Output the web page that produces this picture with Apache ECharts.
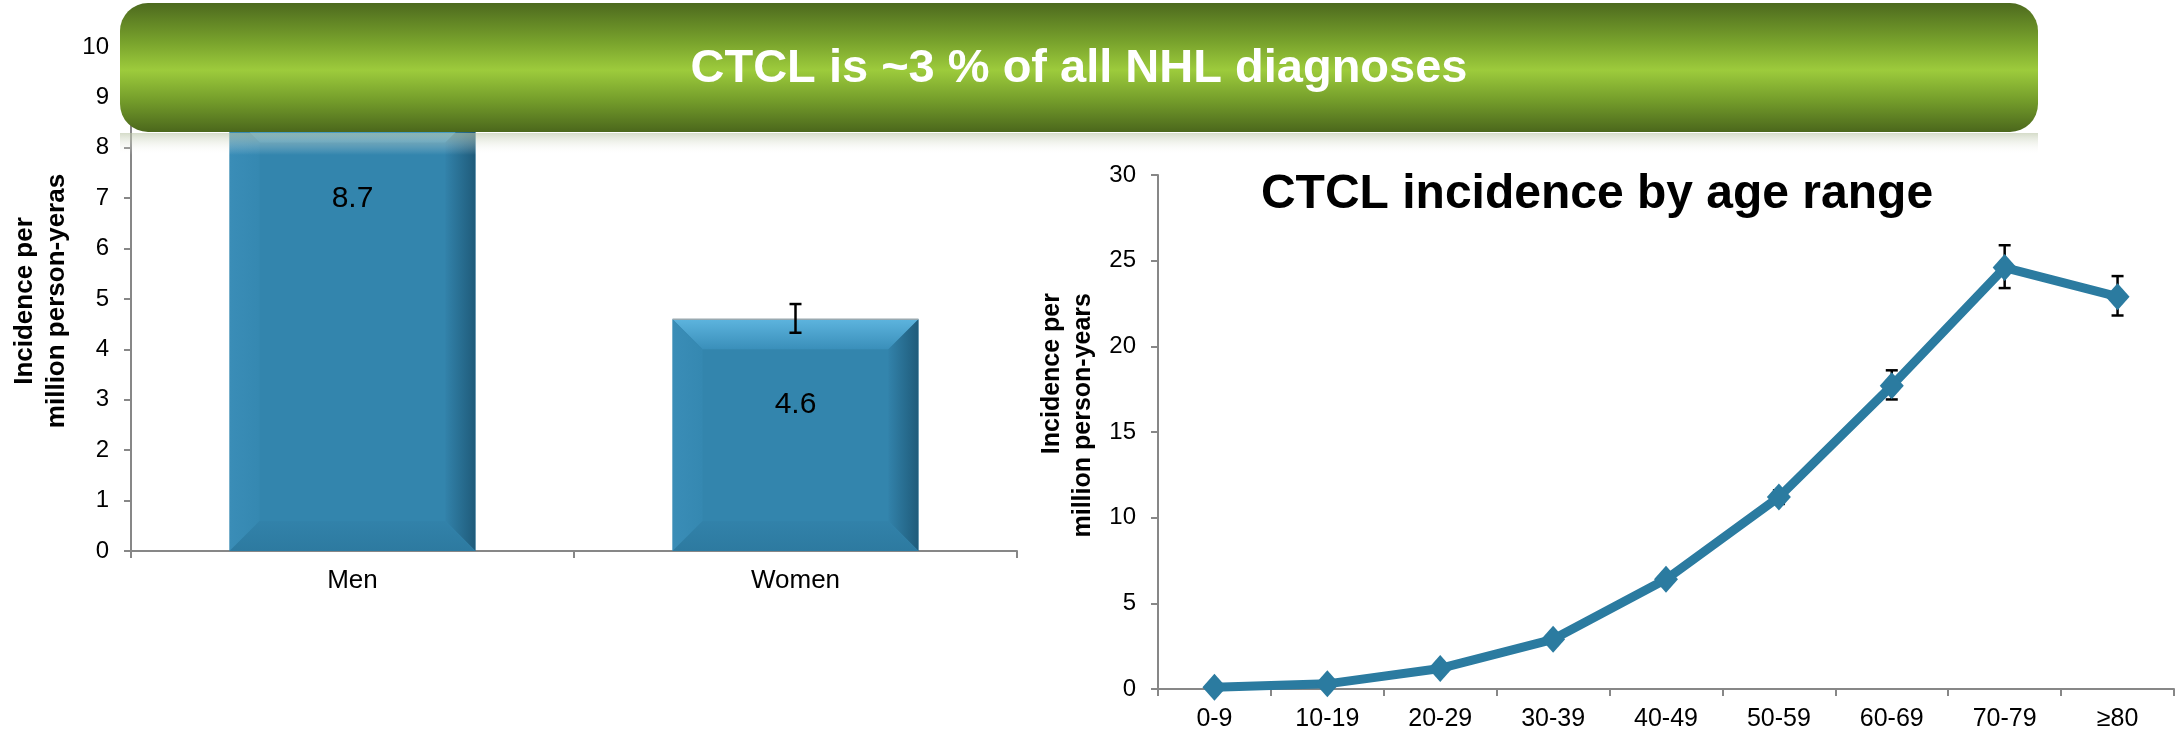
<!DOCTYPE html>
<html>
<head>
<meta charset="utf-8">
<title>CTCL incidence</title>
<script src="https://cdn.jsdelivr.net/npm/echarts@6/dist/echarts.min.js"></script>
<style>
  html, body { margin: 0; padding: 0; background: #fff; }
  #chart { width: 2183px; height: 735px; }
</style>
</head>
<body>
<div id="chart"></div>
<script>
// incidence by sex
var sexCategories = ['Men', 'Women'];
var sexIncidence = [8.7, 4.6];
var sexErrLow = [null, 4.33];
var sexErrHigh = [null, 4.9];

// incidence by age range
var ageCategories = ['0-9', '10-19', '20-29', '30-39', '40-49', '50-59', '60-69', '70-79', '≥80'];
var ageIncidence = [0.1, 0.3, 1.2, 2.9, 6.4, 11.2, 17.7, 24.6, 22.9];
var ageErrLow = [null, null, null, null, null, 10.8, 16.9, 23.4, 21.8];
var ageErrHigh = [null, null, null, null, null, 11.6, 18.6, 25.9, 24.1];

var FONT = '"Liberation Sans", Arial, sans-serif';

function errData(low, high) {
  var out = [];
  for (var i = 0; i < low.length; i++) {
    if (low[i] != null) out.push([i, low[i], high[i]]);
  }
  return out;
}

// I-beam error bar
function renderErr(params, api) {
  var lo = api.coord([api.value(0), api.value(1)]);
  var hi = api.coord([api.value(0), api.value(2)]);
  var w = 6;
  var st = { stroke: '#000', lineWidth: 2.5 };
  return {
    type: 'group',
    children: [
      { type: 'line', shape: { x1: hi[0], y1: hi[1], x2: lo[0], y2: lo[1] }, style: st },
      { type: 'line', shape: { x1: hi[0] - w, y1: hi[1], x2: hi[0] + w, y2: hi[1] }, style: st },
      { type: 'line', shape: { x1: lo[0] - w, y1: lo[1], x2: lo[0] + w, y2: lo[1] }, style: st }
    ]
  };
}

// bevelled bar with value label
function renderBar(params, api) {
  var top = api.coord([api.value(0), api.value(1)]);
  var base = api.coord([api.value(0), 0]);
  var w = api.size([1, 0])[0] * 0.555;
  var x0 = top[0] - w / 2, x1 = top[0] + w / 2;
  var y0 = top[1], y1 = base[1];
  var b = 30;
  function grad(x2, y2, c1, c2) {
    return { type: 'linear', x: 0, y: 0, x2: x2, y2: y2, colorStops: [{ offset: 0, color: c1 }, { offset: 1, color: c2 }] };
  }
  return {
    type: 'group',
    children: [
      { type: 'rect', shape: { x: x0, y: y0, width: w, height: y1 - y0 }, style: { fill: '#3385ad' } },
      { type: 'polygon', shape: { points: [[x0, y0], [x1, y0], [x1 - b, y0 + b], [x0 + b, y0 + b]] },
        style: { fill: grad(0, 1, '#5db4de', '#3a8fba') } },
      { type: 'polygon', shape: { points: [[x0, y0], [x0 + b, y0 + b], [x0 + b, y1 - b], [x0, y1]] },
        style: { fill: grad(1, 0, '#3a8db7', '#3588b1') } },
      { type: 'polygon', shape: { points: [[x1, y0], [x1 - b, y0 + b], [x1 - b, y1 - b], [x1, y1]] },
        style: { fill: grad(1, 0, '#3282aa', '#1f5b7a') } },
      { type: 'polygon', shape: { points: [[x0, y1], [x0 + b, y1 - b], [x1 - b, y1 - b], [x1, y1]] },
        style: { fill: grad(0, 1, '#3282aa', '#2d7aa0') } },
      { type: 'line', shape: { x1: x0, y1: y0, x2: x1, y2: y0 }, style: { stroke: '#9aa9b0', lineWidth: 1.5 } },
      { type: 'text', x: top[0], y: y0 + 86,
        style: { text: api.value(1).toFixed(1), fill: '#000', font: '30px ' + FONT,
          align: 'center', verticalAlign: 'middle', textAlign: 'center', textVerticalAlign: 'middle' } }
    ]
  };
}

var axisLineStyle = { show: true, lineStyle: { color: '#878787', width: 2 } };
var tickStyle = { show: true, length: 7, lineStyle: { color: '#878787', width: 2 } };

var chart = echarts.init(document.getElementById('chart'));
chart.setOption({
  animation: false,
  backgroundColor: '#fff',
  grid: [
    { left: 131, top: 47, width: 886, height: 504 },
    { left: 1158, top: 175, width: 1016, height: 514 }
  ],
  xAxis: [
    {
      type: 'category', gridIndex: 0, data: sexCategories,
      axisLine: axisLineStyle, axisTick: tickStyle,
      axisLabel: { color: '#000', fontSize: 26, fontFamily: FONT, margin: 17 }
    },
    {
      type: 'category', gridIndex: 1, data: ageCategories,
      axisLine: axisLineStyle, axisTick: tickStyle,
      axisLabel: { color: '#000', fontSize: 25, fontFamily: FONT, margin: 18 }
    }
  ],
  yAxis: [
    {
      type: 'value', gridIndex: 0, min: 0, max: 10, interval: 1,
      axisLine: axisLineStyle, axisTick: tickStyle, splitLine: { show: false },
      axisLabel: { color: '#000', fontSize: 24, fontFamily: FONT, margin: 22 }
    },
    {
      type: 'value', gridIndex: 1, min: 0, max: 30, interval: 5,
      axisLine: axisLineStyle, axisTick: tickStyle, splitLine: { show: false },
      axisLabel: { color: '#000', fontSize: 24, fontFamily: FONT, margin: 22 }
    }
  ],
  series: [
    {
      type: 'custom', xAxisIndex: 0, yAxisIndex: 0, z: 2,
      data: sexIncidence.map(function (v, i) { return [i, v]; }),
      encode: { x: 0, y: 1 },
      renderItem: renderBar
    },
    {
      type: 'custom', xAxisIndex: 0, yAxisIndex: 0, z: 3,
      data: errData(sexErrLow, sexErrHigh),
      encode: { x: 0, y: [1, 2] },
      renderItem: renderErr
    },
    {
      type: 'custom', xAxisIndex: 1, yAxisIndex: 1, z: 2,
      data: errData(ageErrLow, ageErrHigh),
      encode: { x: 0, y: [1, 2] },
      renderItem: renderErr
    },
    {
      type: 'line', xAxisIndex: 1, yAxisIndex: 1, z: 3,
      data: ageIncidence,
      symbol: 'diamond', symbolSize: [24, 27],
      lineStyle: { color: '#2b7ba0', width: 9 },
      itemStyle: { color: '#2b7ba0' }
    }
  ],
  graphic: [
    // banner
    {
      type: 'rect', z: 100,
      shape: { x: 120, y: 3, width: 1918, height: 129, r: 28 },
      style: {
        fill: {
          type: 'linear', x: 0, y: 0, x2: 0, y2: 1,
          colorStops: [
            { offset: 0, color: '#4d6a1e' },
            { offset: 0.3, color: '#78a22c' },
            { offset: 0.52, color: '#9dcb3c' },
            { offset: 0.75, color: '#759e2b' },
            { offset: 1, color: '#4b671c' }
          ]
        }
      }
    },
    {
      type: 'rect', z: 100,
      shape: { x: 120, y: 133, width: 1918, height: 22 },
      style: {
        fill: {
          type: 'linear', x: 0, y: 0, x2: 0, y2: 1,
          colorStops: [
            { offset: 0, color: 'rgba(185,196,165,0.6)' },
            { offset: 1, color: 'rgba(255,255,255,0)' }
          ]
        }
      }
    },
    {
      type: 'text', z: 101, x: 1079, y: 69,
      style: { text: 'CTCL is ~3 % of all NHL diagnoses', fill: '#fff', font: 'bold 47px ' + FONT,
        align: 'center', verticalAlign: 'middle', textAlign: 'center', textVerticalAlign: 'middle' }
    },
    // right chart title
    {
      type: 'text', z: 50, x: 1597, y: 195,
      style: { text: 'CTCL incidence by age range', fill: '#000', font: 'bold 48px ' + FONT,
        align: 'center', verticalAlign: 'middle', textAlign: 'center', textVerticalAlign: 'middle' }
    },
    // axis titles
    {
      type: 'text', z: 50, x: 41, y: 301, rotation: Math.PI / 2,
      style: { text: 'Incidence per\nmillion person-yeras', fill: '#000', font: 'bold 26px ' + FONT,
        lineHeight: 32, align: 'center', verticalAlign: 'middle', textAlign: 'center', textVerticalAlign: 'middle' }
    },
    {
      type: 'text', z: 50, x: 1068, y: 293, rotation: Math.PI / 2,
      style: { text: 'Incidence per\nmillion person-years', fill: '#000', font: 'bold 25px ' + FONT,
        lineHeight: 31, align: 'right', verticalAlign: 'middle', textAlign: 'right', textVerticalAlign: 'middle' }
    }
  ]
});
</script>
</body>
</html>
